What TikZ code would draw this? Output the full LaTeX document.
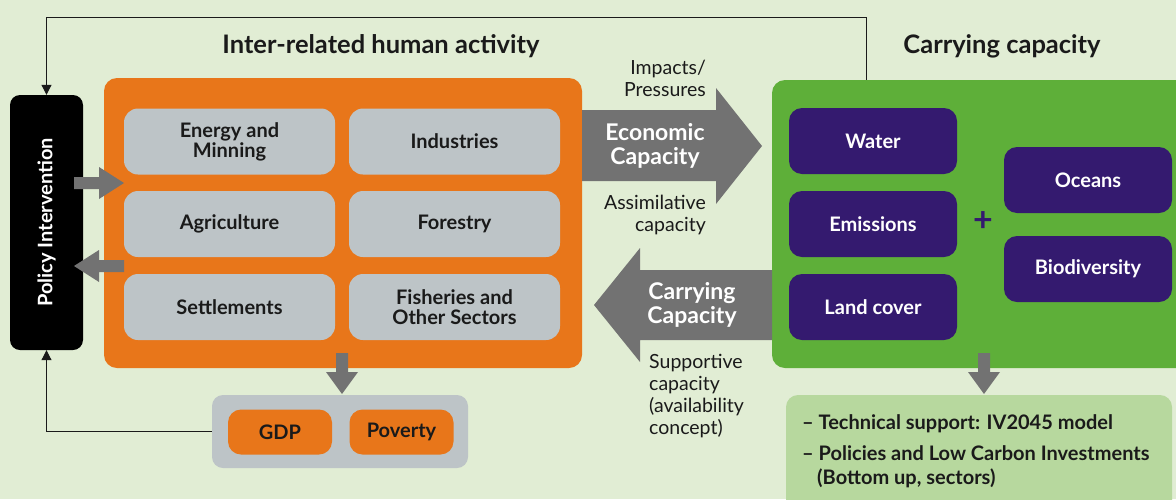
\documentclass[tikz,border=0pt]{standalone}
\usepackage{fontspec}
\setmainfont{Lato}
\usetikzlibrary{arrows.meta,calc}
\definecolor{bg}{HTML}{E1EDD4}
\definecolor{orng}{HTML}{E8761A}
\definecolor{grybox}{HTML}{BDC4C7}
\definecolor{darr}{HTML}{727272}
\definecolor{grn}{HTML}{5EAF39}
\definecolor{purp}{HTML}{341A6F}
\definecolor{lgrn}{HTML}{B7D89E}
\definecolor{txt}{HTML}{1A1A1A}
\newcommand{\fsz}[2]{\fontsize{#1}{#2}\selectfont}
\tikzset{
  sector/.style={fill=grybox, rounded corners=14pt, minimum width=211pt, minimum height=66pt,
    font=\bfseries\fsz{20}{20}, align=center, inner sep=0pt, text=txt},
  envbox/.style={fill=purp, rounded corners=13pt, minimum width=168pt, minimum height=66pt,
    font=\bfseries\fsz{20}{20}, align=center, inner sep=0pt, text=white},
  outbox/.style={fill=orng, rounded corners=13pt, minimum width=104pt, minimum height=45pt,
    font=\bfseries\fsz{20}{20}, inner sep=0pt, text=txt},
  titletext/.style={font=\bfseries\fsz{25.5}{26}, text=txt, inner sep=0pt},
  sidetext/.style={font=\fsz{19.5}{22}, text=txt, inner sep=0pt},
  bigarrowtext/.style={font=\bfseries\fsz{23}{23.5}, text=white, align=center, inner sep=0pt},
  techline/.style={font=\bfseries\fsz{20}{20}, text=txt, anchor=west, inner sep=0pt},
  fbline/.style={draw=txt, line width=1pt, -{Triangle[length=10pt,width=10pt]}},
  blockarrow/.style={fill=darr},
}
\begin{document}
\begin{tikzpicture}[x=1pt,y=-1pt]
\clip (0,0) rectangle (1176,499);
\fill[bg] (0,0) rectangle (1176,499);

% titles
\node[titletext] (t1) at (381,46) {Inter-related human activity};
\node[titletext] (t2) at (1002,46) {Carrying capacity};

% policy box
\node[fill=black, rounded corners=10pt, minimum width=73pt, minimum height=255pt, inner sep=0pt] (policy) at (46.5,222.5) {};
\node[rotate=90, font=\bfseries\fsz{20}{20}, text=white, inner sep=0pt] (policytext) at (policy.center) {Policy Intervention};

% orange main box
\node[fill=orng, rounded corners=13pt, minimum width=478pt, minimum height=290pt, inner sep=0pt] (human) at (343,223) {};
\node[sector] (energy) at (229.5,141.5) {Energy and\\Minning};
\node[sector] (ind) at (454.5,141.5) {Industries};
\node[sector] (agri) at (229.5,224) {Agriculture};
\node[sector] (forest) at (454.5,224) {Forestry};
\node[sector] (settle) at (229.5,307) {Settlements};
\node[sector] (fish) at (454.5,307) {Fisheries and\\Other Sectors};

% green box
\node[fill=grn, rounded corners=13pt, minimum width=430pt, minimum height=288pt, inner sep=0pt] (carry) at (987,224) {};
\node[envbox] (water) at (873,141) {Water};
\node[envbox] (emis) at (873,224) {Emissions};
\node[envbox] (land) at (873,307) {Land cover};
\node[envbox] (ocean) at (1088,180) {Oceans};
\node[envbox] (bio) at (1088,269) {Biodiversity};
\node[font=\bfseries\fsz{34}{34}, text=purp, inner sep=0pt] (plus) at (983,222) {+};

% small arrows policy <-> human
\fill[blockarrow] (74,177) -- (99,177) -- (99,167) -- (124,183) -- (99,199) -- (99,189) -- (74,189) -- cycle;
\fill[blockarrow] (124,260) -- (99,260) -- (99,250) -- (74,266) -- (99,282) -- (99,272) -- (124,272) -- cycle;

% down arrows
\fill[blockarrow] (336,353) -- (348,353) -- (348,372) -- (358,372) -- (342,394) -- (326,372) -- (336,372) -- cycle;
\fill[blockarrow] (978,353) -- (990,353) -- (990,372) -- (1000,372) -- (984,394) -- (968,372) -- (978,372) -- cycle;

% outcomes
\node[fill=grybox, rounded corners=11pt, minimum width=256pt, minimum height=73pt, inner sep=0pt] (outc) at (340,431.5) {};
\node[outbox] (gdp) at (280,432) {GDP};
\node[outbox] (pov) at (401.5,432) {Poverty};

% big arrows
\fill[blockarrow] (582,110) -- (716,110) -- (716,88) -- (762,146) -- (716,204) -- (716,181) -- (582,181) -- cycle;
\node[bigarrowtext] (econ) at (655,146) {Economic\\Capacity};
\fill[blockarrow] (772,270) -- (640,270) -- (640,248) -- (594,305) -- (640,362) -- (640,340) -- (772,340) -- cycle;
\node[bigarrowtext] (carrytxt) at (692,305) {Carrying\\Capacity};

% side labels
\node[sidetext, align=right, anchor=east] (imp) at (706,78) {Impacts/\\Pressures};
\node[sidetext, align=right, anchor=east] (assim) at (706,215) {Assimilative\\capacity};
\node[sidetext, align=left, anchor=west] (supp) at (649,396) {Supportive\\capacity\\(availability\\concept)};

% bottom box
\node[fill=lgrn, rounded corners=12pt, minimum width=386pt, minimum height=120pt, inner sep=0pt] (tech) at (979,455) {};
\node[techline] (tech1) at (802,424) {– Technical support: IV2045 model};
\node[techline] (tech2) at (802,453) {– Policies and Low Carbon Investments};
\node[techline] (tech3) at (817,478) {(Bottom up, sectors)};

% feedback lines
\coordinate (fbtop) at (866,17);
\draw[fbline] (carry.north -| fbtop) -- (fbtop) -| (policy.north);
\draw[fbline] (outc.west) -| (policy.south);
\end{tikzpicture}
\end{document}
